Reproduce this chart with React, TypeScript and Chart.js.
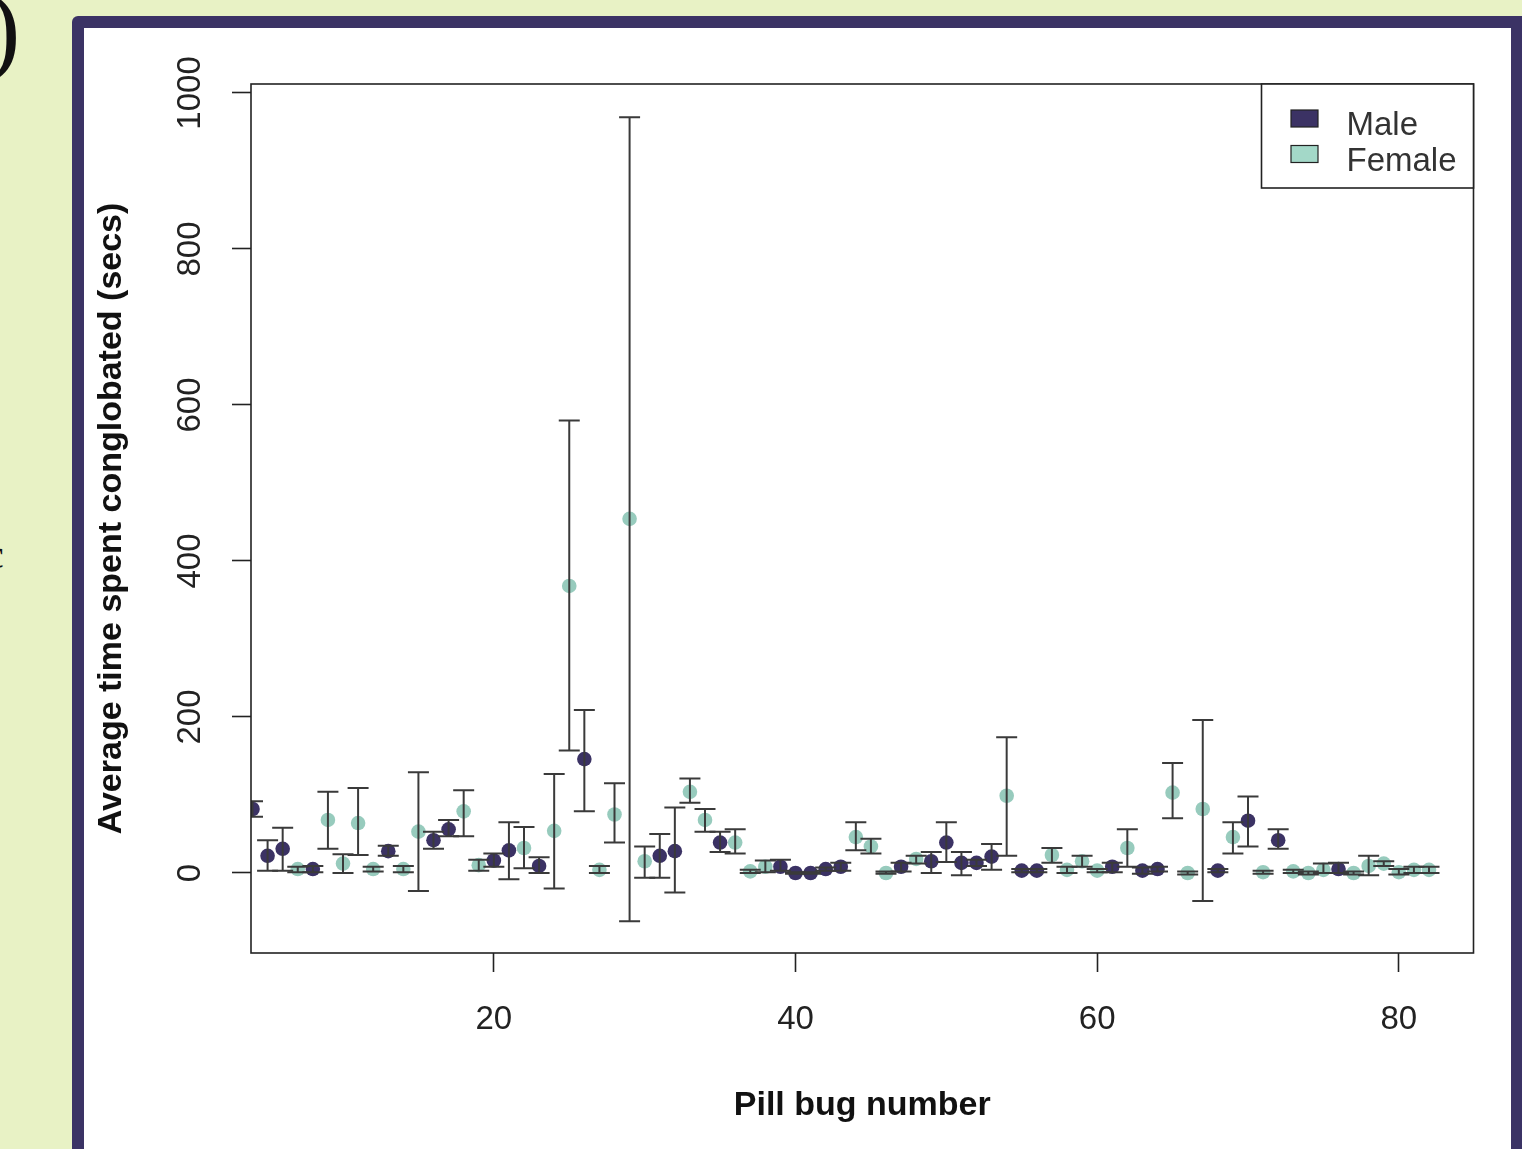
import React, { useEffect, useRef } from 'react';
import { Chart, registerables } from 'chart.js';

Chart.register(...registerables);

// ---------------- data ----------------
const bugNumber = [
  4, 5, 6, 7, 8, 9, 10, 11, 12, 13,
  14, 15, 16, 17, 18, 19, 20, 21, 22, 23,
  24, 25, 26, 27, 28, 29, 30, 31, 32, 33,
  34, 35, 36, 37, 38, 39, 40, 41, 42, 43,
  44, 45, 46, 47, 48, 49, 50, 51, 52, 53,
  54, 55, 56, 57, 58, 59, 60, 61, 62, 63,
  64, 65, 66, 67, 68, 69, 70, 71, 72, 73,
  74, 75, 76, 77, 78, 79, 80, 81, 82,
];
const bugSex = [
  'M', 'M', 'M', 'F', 'M', 'F', 'F', 'F', 'F', 'M',
  'F', 'F', 'M', 'M', 'F', 'F', 'M', 'M', 'F', 'M',
  'F', 'F', 'M', 'F', 'F', 'F', 'F', 'M', 'M', 'F',
  'F', 'M', 'F', 'F', 'F', 'M', 'M', 'M', 'M', 'M',
  'F', 'F', 'F', 'M', 'F', 'M', 'M', 'M', 'M', 'M',
  'F', 'M', 'M', 'F', 'F', 'F', 'F', 'M', 'F', 'M',
  'M', 'F', 'F', 'F', 'M', 'F', 'M', 'F', 'M', 'F',
  'F', 'F', 'M', 'F', 'F', 'F', 'F', 'F', 'F',
];
const meanSecs = [
  82, 22, 31, 5, 5, 68, 12, 64, 5, 28,
  5, 53, 42, 56, 79, 10, 16, 29, 32, 9,
  54, 368, 146, 4, 75, 454, 15, 22, 28, 104,
  68, 39, 39, 2, 8, 8, 0, 0, 5, 8,
  46, 34, 0, 8, 18, 15, 39, 13, 13, 21,
  99, 3, 3, 23, 4, 15, 3, 8, 32, 3,
  5, 103, 0, 82, 3, 46, 67, 1, 42, 2,
  0, 4, 5, 0, 9, 12, 1, 4, 4,
];
const lowerSecs = [
  72, 3, 3, 1, 1, 31, 0, 23, 2, 22,
  1, -23, 31, 47, 47, 3, 8, -8, 6, 0,
  -20, 157, 79, 0, 39, -62, -6, -6, -25, 90,
  53, 27, 25, 0, 1, 3, -1, -1, 3, 3,
  29, 25, -1, 2, 12, 0, 14, -3, 9, 4,
  22, 1, 1, 13, 0, 8, 1, 1, 8, -1,
  2, 70, -2, -36, 1, 25, 34, -1, 31, 0,
  -2, 0, 0, -2, -3, 9, -2, 0, 0,
];
const upperSecs = [
  92, 42, 58, 8, 9, 104, 24, 109, 8, 35,
  9, 129, 53, 68, 106, 17, 25, 65, 59, 20,
  127, 580, 209, 9, 115, 969, 34, 50, 84, 121,
  82, 53, 56, 4, 16, 17, 1, 1, 7, 13,
  65, 44, 2, 13, 22, 27, 65, 27, 17, 37,
  174, 5, 5, 32, 8, 22, 5, 13, 56, 7,
  8, 141, 2, 196, 5, 65, 98, 3, 56, 4,
  2, 12, 13, 2, 22, 15, 5, 8, 8,
];
const xTickValues = [20, 40, 60, 80];
const yTickValues = [0, 200, 400, 600, 800, 1000];
const seriesNames = ['Male', 'Female'];
const seriesCodes = ['M', 'F'];
const xTitle = 'Pill bug number';
const yTitle = 'Average time spent conglobated (secs)';

// ---------------- styles ----------------
const FONT = "'Liberation Sans', Arial, Helvetica, sans-serif";
const MALE_COLOR = '#3b3264';
const FEMALE_COLOR = '#97cbbd';
const FEMALE_SWATCH = '#a3d8c8';
const INK = '#222222';

const errorBarPlugin = {
  id: 'errorBars',
  afterDatasetsDraw(chart: any) {
    const { ctx, chartArea, scales } = chart;
    const xs = scales.x;
    const ys = scales.y;
    ctx.save();
    ctx.beginPath();
    ctx.rect(chartArea.left, chartArea.top, chartArea.right - chartArea.left, chartArea.bottom - chartArea.top);
    ctx.clip();
    ctx.strokeStyle = '#3a3a3a';
    ctx.lineWidth = 2;
    const cap = 10.5;
    for (let i = 0; i < bugNumber.length; i++) {
      const px = xs.getPixelForValue(bugNumber[i]);
      const yl = ys.getPixelForValue(lowerSecs[i]);
      const yh = ys.getPixelForValue(upperSecs[i]);
      ctx.beginPath();
      ctx.moveTo(px, yl);
      ctx.lineTo(px, yh);
      ctx.moveTo(px - cap, yl);
      ctx.lineTo(px + cap, yl);
      ctx.moveTo(px - cap, yh);
      ctx.lineTo(px + cap, yh);
      ctx.stroke();
    }
    ctx.restore();
  },
};

const frameLegendPlugin = {
  id: 'frameLegend',
  afterDraw(chart: any) {
    const { ctx, chartArea } = chart;
    ctx.save();
    // plot box
    ctx.strokeStyle = INK;
    ctx.lineWidth = 1.6;
    ctx.strokeRect(chartArea.left, chartArea.top, chartArea.right - chartArea.left, chartArea.bottom - chartArea.top);
    // legend
    const lx = 1261.5;
    const ly = chartArea.top;
    const lw = chartArea.right - lx;
    const lh = 104;
    ctx.fillStyle = '#ffffff';
    ctx.fillRect(lx, ly, lw, lh);
    ctx.strokeRect(lx, ly, lw, lh);
    const colors = [MALE_COLOR, FEMALE_SWATCH];
    for (let k = 0; k < seriesNames.length; k++) {
      const sy = ly + 26 + k * 35.5;
      ctx.fillStyle = colors[k];
      ctx.fillRect(lx + 29.5, sy, 27, 17);
      ctx.lineWidth = 1.2;
      ctx.strokeStyle = INK;
      ctx.strokeRect(lx + 29.5, sy, 27, 17);
      ctx.fillStyle = '#333333';
      ctx.font = `33px ${FONT}`;
      ctx.textBaseline = 'alphabetic';
      ctx.textAlign = 'left';
      ctx.fillText(seriesNames[k], lx + 85, sy + 25);
    }
    ctx.restore();
  },
};

export default function App() {
  const canvasRef = useRef<HTMLCanvasElement | null>(null);

  useEffect(() => {
    const canvas = canvasRef.current;
    if (!canvas) return;
    const datasets = seriesCodes.map((code, k) => {
      const pts: { x: number; y: number }[] = [];
      for (let i = 0; i < bugNumber.length; i++) {
        if (bugSex[i] === code) pts.push({ x: bugNumber[i], y: meanSecs[i] });
      }
      const color = k === 0 ? MALE_COLOR : FEMALE_COLOR;
      return {
        label: seriesNames[k],
        data: pts,
        pointRadius: 7.3,
        pointHoverRadius: 7.3,
        pointBackgroundColor: color,
        pointBorderWidth: 0,
        borderColor: color,
        backgroundColor: color,
        showLine: false,
        clip: 0,
      };
    });

    const chart = new Chart(canvas, {
      type: 'scatter',
      data: { datasets: datasets as any },
      options: {
        responsive: false,
        animation: false,
        devicePixelRatio: 1,
        layout: { padding: { left: 0, top: 84, right: 48.5, bottom: 0 } },
        plugins: {
          legend: { display: false },
          tooltip: { enabled: false },
        },
        scales: {
          x: {
            type: 'linear',
            min: 3.9,
            max: 84.95,
            afterBuildTicks: (scale: any) => {
              scale.ticks = xTickValues.map((v) => ({ value: v }));
            },
            afterFit: (scale: any) => {
              scale.height = 196;
            },
            border: { display: false },
            grid: {
              drawOnChartArea: false,
              drawTicks: true,
              tickLength: 19,
              tickWidth: 1.6,
              color: INK,
            },
            ticks: {
              autoSkip: false,
              maxRotation: 0,
              minRotation: 0,
              padding: 28,
              color: INK,
              font: { family: FONT, size: 33 },
              callback: (v: any) => String(v),
            },
            title: {
              display: true,
              text: xTitle,
              color: '#111111',
              font: { family: FONT, size: 34, weight: 'bold' },
              padding: { top: 0, bottom: 23 },
            },
          },
          y: {
            type: 'linear',
            min: -102.6,
            max: 1011.5,
            afterBuildTicks: (scale: any) => {
              scale.ticks = yTickValues.map((v) => ({ value: v }));
            },
            afterFit: (scale: any) => {
              scale.width = 251;
            },
            border: { display: false },
            grid: {
              drawOnChartArea: false,
              drawTicks: true,
              tickLength: 19,
              tickWidth: 1.6,
              color: INK,
            },
            ticks: {
              autoSkip: false,
              minRotation: 90,
              maxRotation: 90,
              crossAlign: 'center',
              padding: 4,
              color: INK,
              font: { family: FONT, size: 33 },
              callback: (v: any) => String(v),
            },
            title: {
              display: true,
              text: yTitle,
              color: '#111111',
              font: { family: FONT, size: 34, weight: 'bold' },
              padding: { top: 91.6, bottom: 0 },
            },
          },
        },
      } as any,
      plugins: [errorBarPlugin, frameLegendPlugin],
    });
    return () => chart.destroy();
  }, []);

  return (
    <div
      style={{
        position: 'fixed',
        left: 0,
        top: 0,
        width: 1522,
        height: 1149,
        overflow: 'hidden',
        background: '#e8f2c5',
      }}
    >
      <span
        style={{
          position: 'absolute',
          left: -13,
          top: -21,
          fontFamily: "'Liberation Serif', 'Times New Roman', serif",
          fontSize: 100,
          lineHeight: 1,
          color: '#111',
        }}
      >
        )
      </span>
      <span
        style={{
          position: 'absolute',
          left: -14,
          top: 535,
          fontFamily: "'Liberation Serif', 'Times New Roman', serif",
          fontSize: 40,
          lineHeight: 1,
          color: '#111',
        }}
      >
        c
      </span>
      <div
        style={{
          position: 'absolute',
          left: 72,
          top: 16,
          width: 1470,
          height: 1160,
          background: '#3b3365',
          borderRadius: 6,
        }}
      />
      <div
        style={{
          position: 'absolute',
          left: 84,
          top: 28,
          width: 1427,
          height: 1140,
          background: '#ffffff',
        }}
      />
      <canvas
        ref={canvasRef}
        width={1522}
        height={1149}
        style={{ position: 'absolute', left: 0, top: 0, width: 1522, height: 1149 }}
      />
    </div>
  );
}
